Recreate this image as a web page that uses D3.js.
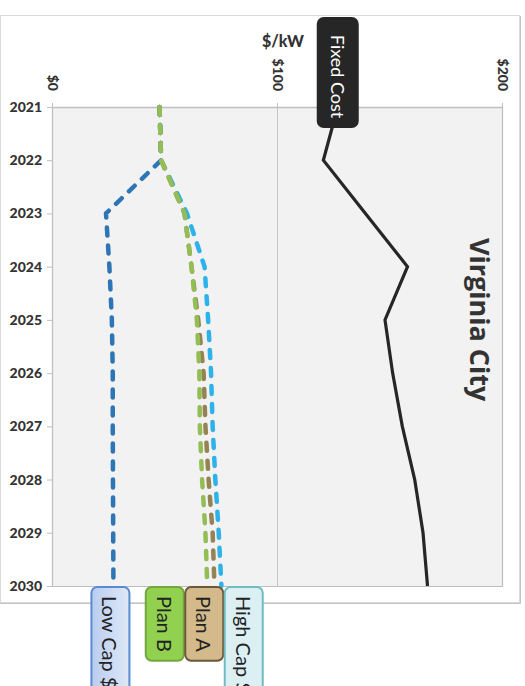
<!DOCTYPE html>
<html>
<head>
<meta charset="utf-8">
<script src="https://cdn.jsdelivr.net/npm/d3@7"></script>
<style>
  html, body { margin: 0; padding: 0; background: #fff; }
  svg { display: block; }
</style>
</head>
<body>
<svg id="chart" width="525" height="686"></svg>
<script>
// Annual fixed cost ($/kW) and capacity-value scenarios, 2021-2030
const years     = [2021, 2022, 2023, 2024, 2025, 2026, 2027, 2028, 2029, 2030];
const fixedCost = [127, 120.6, 139.3, 158, 148, 151.4, 155.7, 161.2, 164.9, 166.9];
const lowCap    = [47.8, 48.5, 24.0, 25.5, 26.6, 27.0, 27.0, 27.1, 27.2, 27.3];
const highCap   = [47.8, 48.5, 60.0, 67.8, 69.4, 70.7, 71.4, 72.6, 74.1, 75.3];
const planA     = [47.8, 48.5, 58.9, 62.0, 65.0, 67.4, 68.2, 69.6, 71.4, 72.2];
const planB     = [47.8, 48.5, 58.9, 62.0, 64.4, 65.5, 65.7, 66.7, 68.2, 69.0];
const costTicks = [0, 100, 200];
const plantName = "Virginia City";
const unitLabel = "$/kW";

const series = [
  { key: "low",   label: "Low Cap $",  values: lowCap,  color: "#2E75B6", fill: "url(#lowFill)", border: "#5A8AD2" },
  { key: "high",  label: "High Cap $", values: highCap, color: "#2DB2EA", fill: "#DCEFF3",       border: "#6DBDC2" },
  { key: "planA", label: "Plan A",     values: planA,   color: "#958355", fill: "#D4B98B",       border: "#6A583A" },
  { key: "planB", label: "Plan B",     values: planB,   color: "#93BE55", fill: "#92D050",       border: "#74A63E" }
];

const svg = d3.select("#chart");
const plot = { left: 52, right: 502, top: 107, bottom: 586 };

const x = d3.scaleLinear().domain([0, 200]).range([plot.left, plot.right]);
const y = d3.scaleLinear().domain([2021, 2030]).range([plot.top, plot.bottom]);

const defs = svg.append("defs");
const g1 = defs.append("linearGradient").attr("id", "lowFill")
  .attr("x1", "0").attr("x2", "1").attr("y1", "0").attr("y2", "0");
g1.append("stop").attr("offset", "0").attr("stop-color", "#B9CDF0");
g1.append("stop").attr("offset", "1").attr("stop-color", "#DFE8F7");

// chart frame
svg.append("rect")
  .attr("x", 0.5).attr("y", 15.5).attr("width", 519).attr("height", 587)
  .attr("fill", "#fff").attr("stroke", "#d9d9d9");
svg.append("path")
  .attr("d", `M0,603.5 H520.5 V16`)
  .attr("fill", "none").attr("stroke", "#c4c4c4").attr("stroke-width", 1);

// plot area
svg.append("rect")
  .attr("x", plot.left).attr("y", plot.top)
  .attr("width", plot.right - plot.left).attr("height", plot.bottom - plot.top)
  .attr("fill", "#f2f2f2");
svg.append("path")
  .attr("d", `M${plot.right + 0.5},${plot.top} V${plot.bottom + 0.5} H${plot.left}`)
  .attr("fill", "none").attr("stroke", "#bdbdbd").attr("stroke-width", 1.2);

// vertical gridline at $100
svg.append("g").selectAll("line")
  .data(costTicks.filter(d => d > 0 && d < 200))
  .join("line")
  .attr("x1", d => Math.round(x(d)) + 0.5).attr("x2", d => Math.round(x(d)) + 0.5)
  .attr("y1", plot.top).attr("y2", plot.bottom)
  .attr("stroke", "#c4c4c4").attr("stroke-width", 1);

const axisFont = "Lato, 'Open Sans', sans-serif";

// top cost axis with rotated tick labels
const xAxis = svg.append("g")
  .attr("transform", `translate(0,${plot.top})`)
  .call(d3.axisTop(x).tickValues(costTicks).tickSize(4).tickSizeOuter(0).tickFormat(d => "$" + d));
xAxis.select(".domain").attr("stroke", "#bfbfbf").attr("stroke-width", 1.3);
xAxis.selectAll(".tick line").attr("stroke", "#bfbfbf");
xAxis.selectAll(".tick text")
  .attr("transform", "rotate(90)")
  .attr("x", -16).attr("y", 0).attr("dy", "0.35em")
  .attr("text-anchor", "end")
  .attr("fill", "#333")
  .style("font-family", axisFont).style("font-size", "14px").style("font-weight", "900");

// left year axis
const yAxis = svg.append("g")
  .attr("transform", `translate(${plot.left},0)`)
  .call(d3.axisLeft(y).tickValues(years).tickSize(5).tickSizeOuter(0).tickFormat(d3.format("d")));
yAxis.select(".domain").attr("stroke", "#bfbfbf").attr("stroke-width", 1.3);
yAxis.selectAll(".tick line").attr("stroke", "#bfbfbf");
yAxis.selectAll(".tick text")
  .attr("x", -10)
  .attr("fill", "#333")
  .style("font-family", axisFont).style("font-size", "14px").style("font-weight", "900");

// unit label
svg.append("text")
  .attr("x", (plot.left + plot.right) / 2 + 6).attr("y", 47)
  .attr("text-anchor", "middle")
  .attr("fill", "#333")
  .style("font-family", axisFont).style("font-size", "16px").style("font-weight", "900")
  .text(unitLabel);

// plant name
svg.append("text")
  .attr("transform", `translate(479,238) rotate(90)`)
  .attr("dy", "0.35em")
  .attr("text-anchor", "start")
  .attr("fill", "#333")
  .style("font-family", "'Open Sans', Lato, sans-serif").style("font-size", "27px").style("font-weight", "700")
  .text(plantName);

const line = d3.line().x(d => x(d.v)).y(d => y(d.year));
const toPts = vals => years.map((year, i) => ({ year, v: vals[i] }));

// scenario lines (dashed)
svg.append("g").selectAll("path")
  .data(series)
  .join("path")
  .attr("d", s => line(toPts(s.values)))
  .attr("fill", "none")
  .attr("stroke", s => s.color)
  .attr("stroke-width", 4.5)
  .attr("stroke-dasharray", "8,10")
  .attr("stroke-linecap", "round")
  .attr("stroke-linejoin", "round");

// fixed cost line (solid)
svg.append("path")
  .attr("d", line(toPts(fixedCost)))
  .attr("fill", "none")
  .attr("stroke", "#262626")
  .attr("stroke-width", 3.2)
  .attr("stroke-linejoin", "miter");

const labelFont = "Lato, 'Open Sans', sans-serif";

// Fixed Cost tag at the 2021 point
(function () {
  const cx = x(fixedCost[0]);
  const top = 17, bottom = y(years[0]) + 21, w = 42;
  const g = svg.append("g");
  g.append("rect")
    .attr("x", cx - w / 2).attr("y", top).attr("width", w).attr("height", bottom - top)
    .attr("rx", 7).attr("fill", "#262626");
  g.append("text")
    .attr("transform", `translate(${cx},${(top + bottom) / 2 + 4}) rotate(90)`)
    .attr("dy", "0.35em").attr("text-anchor", "middle")
    .attr("fill", "#fff")
    .style("font-family", labelFont).style("font-size", "18px")
    .text("Fixed Cost");
})();

// end-of-line tags for the scenarios, spread apart where they would overlap
const boxW = 38, gap = 1.5, shift = -3;
const ends = series.map(s => ({ s, ex: x(s.values[s.values.length - 1]) }))
  .sort((a, b) => a.ex - b.ex);
const clusters = [];
ends.forEach(e => {
  const c = clusters[clusters.length - 1];
  if (c && e.ex - c[c.length - 1].ex < boxW + gap) c.push(e);
  else clusters.push([e]);
});
clusters.forEach(c => {
  const center = c[0].ex;
  c.forEach((e, i) => { e.cx = center + (i - (c.length - 1) / 2) * (boxW + gap) + shift; });
});

const tagTop = plot.bottom + 1;
const tags = svg.append("g").selectAll("g")
  .data(ends)
  .join("g");
tags.each(function (e) {
  const g = d3.select(this);
  const rect = g.append("rect");
  const t = g.append("text")
    .attr("dy", "0.35em").attr("text-anchor", "start")
    .attr("fill", "#222")
    .style("font-family", labelFont).style("font-size", "20px")
    .text(e.s.label);
  const len = t.node().getComputedTextLength();
  const pad = 9;
  t.attr("transform", `translate(${e.cx - 1},${tagTop + pad}) rotate(90)`);
  rect.attr("x", e.cx - boxW / 2).attr("y", tagTop)
    .attr("width", boxW).attr("height", len + pad * 2)
    .attr("rx", 6)
    .attr("fill", e.s.fill).attr("stroke", e.s.border).attr("stroke-width", 2);
});
</script>
</body>
</html>
